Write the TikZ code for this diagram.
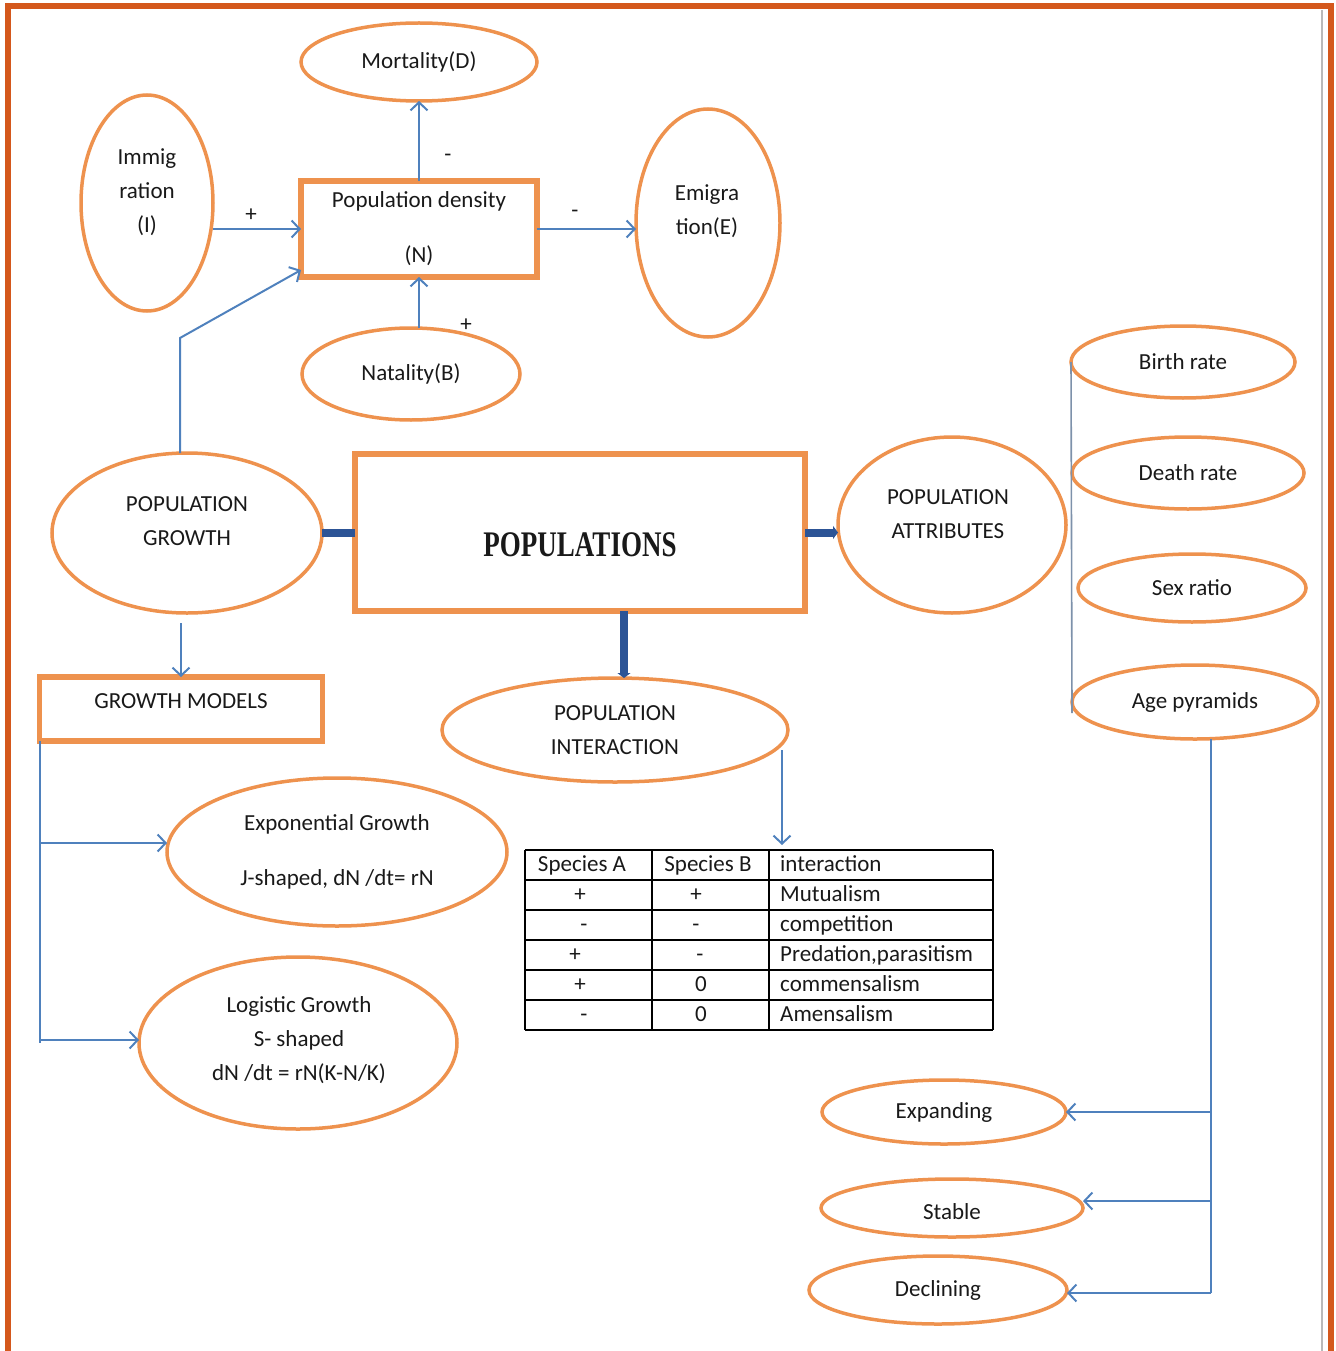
\documentclass[tikz,border=0pt]{standalone}
\usepackage{fontspec}
\setmainfont{Carlito}
\newfontfamily\popfont{Liberation Serif}
\usetikzlibrary{shapes.geometric,arrows.meta,calc}
\definecolor{frameor}{RGB}{212,88,28}
\definecolor{ellor}{RGB}{238,146,78}
\definecolor{lnblue}{RGB}{79,129,189}
\definecolor{dkblue}{RGB}{44,84,150}
\definecolor{txt}{RGB}{25,25,25}
\definecolor{sgray}{RGB}{125,145,170}
\begin{document}
\begin{tikzpicture}[x=1pt,y=-1pt,
  lbl/.style={font=\fontsize{23}{34}\selectfont,text=txt,align=center,inner sep=0pt},
  ell/.style={ellipse,draw=ellor,line width=3.5pt,inner sep=0pt,outer sep=0pt,lbl},
  obox/.style={rectangle,draw=ellor,line width=5.5pt,inner sep=0pt,outer sep=0pt,lbl},
  arr/.style={draw=lnblue,line width=2pt,-{Straight Barb[length=8pt,width=17pt]}},
  ln/.style={draw=lnblue,line width=2pt},
  gln/.style={draw=sgray,line width=1.6pt},
  thk/.style={draw=dkblue,line width=8pt,-{Triangle[length=5pt,width=13pt]}},
  thkbar/.style={draw=dkblue,line width=8pt},
  tline/.style={draw=black,line width=1.8pt},
  cell/.style={lbl,text height=16pt,text depth=5pt},
]
\useasboundingbox (0,0) rectangle (1335,1351);
% frame
\draw[frameor,line width=6pt] (8,1351) -- (8,6.5) -- (1331,6.5) -- (1331,1351);
\draw[gray!55,line width=1.2pt] (1322,10) -- (1322,1351);

% top cluster
\node[ell,minimum width=236pt,minimum height=78pt] (mort) at (419,62) {Mortality(D)};
\node[ell,minimum width=132pt,minimum height=216pt] (imm) at (147,203) {};
\node[lbl] (immT) at (147,192) {Immig\\ration\\(I)};
\node[obox,minimum width=236pt,minimum height=96pt] (pd) at (419,229) {Population density\\[21pt](N)};
\node[ell,minimum width=144pt,minimum height=228pt] (emi) at (708,223) {};
\node[lbl] (emiT) at (707,211) {Emigra\\tion(E)};
\node[ell,minimum width=218pt,minimum height=92pt] (nat) at (411,374) {Natality(B)};

\draw[arr] (pd.north) -- (mort.south);
\draw[arr] (pd.west -| imm.east) -- (pd.west);
\draw[arr] (pd.east) -- (pd.east -| emi.west);
\draw[arr] (nat.north -| pd.south) -- (pd.south);
\node[lbl] (sgm) at (448,158) {-};
\node[lbl] (sgi) at (251,215) {+};
\node[lbl] (sge) at (575,214) {-};
\node[lbl] (sgn) at (466,325) {+};

% center
\node[obox,line width=6pt,minimum width=450pt,minimum height=157pt] (pop) at (580,532.5) {};
\node[lbl] (popT) at (580,545) {\scalebox{0.75}[1]{\popfont\bfseries\fontsize{36}{40}\selectfont POPULATIONS}};
\node[ell,minimum width=270pt,minimum height=160pt] (pg) at (187,533) {};
\node[lbl] (pgT) at (187,521) {POPULATION\\GROWTH};
\node[ell,minimum width=228pt,minimum height=176pt] (attr) at (952,525) {};
\node[lbl] (attrT) at (948,514) {POPULATION\\ATTRIBUTES};
\node[ell,minimum width=346pt,minimum height=104pt] (inter) at (615,730) {POPULATION\\INTERACTION};

\draw[thkbar] (pop.west) -- (pop.west -| pg.east);
\draw[thk] (pop.east) -- (pop.east -| attr.west);
\draw[thk] ([xshift=44pt]pop.south) -- ([xshift=9pt]inter.north);

\coordinate (bend) at (180,338);
\draw[arr] (pg.north -| bend) -- (bend) -- ([yshift=7pt]pd.south west);

% growth models
\node[obox,minimum width=283pt,minimum height=64pt] (gm) at (181,709) {};
\node[lbl] (gmT) at (181,701) {GROWTH MODELS};
\draw[arr] ([yshift=-10pt]pg.south -| gm.north) -- (gm.north);
\node[ell,minimum width=340pt,minimum height=148pt] (expg) at (337,852) {Exponential Growth\\[21pt]J-shaped, dN /dt= rN};
\node[ell,minimum width=318pt,minimum height=172pt] (logg) at (298,1043) {};
\node[lbl] (loggT) at (299,1040) {Logistic Growth\\S- shaped\\dN /dt = rN(K-N/K)};
\draw[ln] (gm.south west) -- (logg.west -| gm.south west);
\draw[arr] ([yshift=9pt]expg.west -| gm.south west) -- ([yshift=9pt]expg.west);
\draw[arr] ([yshift=3pt]logg.west -| gm.south west) -- ([yshift=3pt]logg.west);

% attributes column
\node[ell,minimum width=224pt,minimum height=72pt] (birth) at (1183,362) {Birth rate};
\node[ell,minimum width=232pt,minimum height=72pt] (death) at (1188,473) {Death rate};
\node[ell,minimum width=228pt,minimum height=68pt] (sex) at (1192,588) {Sex ratio};
\node[ell,minimum width=246pt,minimum height=74pt] (age) at (1195,702) {Age pyramids};
\draw[gln] (birth.west) -- ([yshift=-11pt]age.west);

\node[ell,minimum width=244pt,minimum height=64pt] (expd) at (944,1112) {Expanding};
\node[ell,minimum width=262pt,minimum height=58pt] (stab) at (952,1208) {};
\node[lbl] (stabT) at (952,1212) {Stable};
\node[ell,minimum width=258pt,minimum height=68pt] (decl) at (938,1290) {Declining};
\coordinate (sp) at (1211,1293);
\draw[ln] ([xshift=16pt]age.south) -- (sp);
\draw[arr] (sp) -- (sp -| decl.east);
\draw[arr] (expd.east -| sp) -- (expd.east);
\draw[arr] ([yshift=7pt]stab.east -| sp) -- ([yshift=7pt]stab.east);

% table
\coordinate (tabtop) at (782,845);
\draw[arr] ([yshift=-20pt]inter.east -| tabtop) -- (tabtop);
\foreach \yy in {850,880,910,940,970,1000,1030} \draw[tline] (525,\yy) -- (993,\yy);
\foreach \xx in {525,652,769,993} \draw[tline] (\xx,850) -- (\xx,1030);
\node[cell] (tA0) at (582,866) {Species A};
\node[cell] (tB0) at (708,866) {Species B};
\node[cell,anchor=west] (tC0) at (780,866) {interaction};
\node[cell] (tA1) at (580,896) {+};
\node[cell] (tB1) at (696,896) {+};
\node[cell,anchor=west] (tC1) at (780,896) {Mutualism};
\node[cell] (tA2) at (584,926) {-};
\node[cell] (tB2) at (696,926) {-};
\node[cell,anchor=west] (tC2) at (780,926) {competition};
\node[cell] (tA3) at (575,956) {+};
\node[cell] (tB3) at (700,956) {-};
\node[cell,anchor=west] (tC3) at (780,956) {Predation,parasitism};
\node[cell] (tA4) at (580,986) {+};
\node[cell] (tB4) at (701,986) {0};
\node[cell,anchor=west] (tC4) at (780,986) {commensalism};
\node[cell] (tA5) at (584,1016) {-};
\node[cell] (tB5) at (701,1016) {0};
\node[cell,anchor=west] (tC5) at (780,1016) {Amensalism};
\end{tikzpicture}
\end{document}
